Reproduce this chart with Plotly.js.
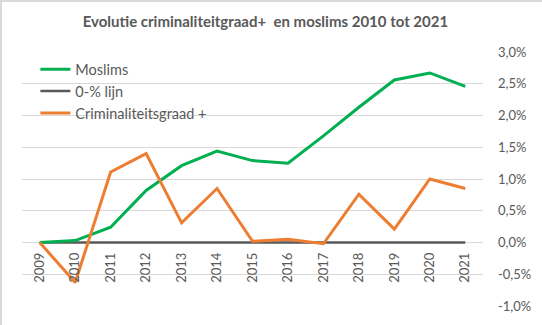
<!DOCTYPE html>
<html>
<head>
<meta charset="utf-8">
<script src="https://cdn.plot.ly/plotly-3.0.1.min.js"></script>
<style>
html,body{margin:0;padding:0;background:#fff;}
#chart{width:542px;height:325px;position:absolute;left:0;top:0;}
#frame{position:absolute;left:0;top:0;width:542px;height:325px;box-sizing:border-box;border-top:2px solid #d9d9d9;border-left:2px solid #d9d9d9;pointer-events:none;}
</style>
</head>
<body>
<div id="chart"></div>
<div id="frame"></div>
<script>
const years = ['2009','2010','2011','2012','2013','2014','2015','2016','2017','2018','2019','2020','2021'];
const moslims = [0.00, 0.03, 0.24, 0.82, 1.21, 1.44, 1.29, 1.25, 1.68, 2.13, 2.56, 2.67, 2.46];
const nulLijn = [0, 0, 0, 0, 0, 0, 0, 0, 0, 0, 0, 0, 0];
const criminaliteit = [0.00, -0.63, 1.11, 1.40, 0.31, 0.85, 0.02, 0.05, -0.02, 0.76, 0.21, 1.00, 0.85];
const yTicks = [-1.0, -0.5, 0, 0.5, 1.0, 1.5, 2.0, 2.5, 3.0];
const yTickText = yTicks.map(v => v.toFixed(1).replace('.', ',') + '%');

const FONT = 'Lato, "Open Sans", "Liberation Sans", sans-serif';
const TXT = '#595959';

const traces = [
  {x: years, y: nulLijn, name: '0-% lijn', type: 'scatter', mode: 'lines',
   line: {color: '#595959', width: 2.5}, legendrank: 2},
  {x: years, y: moslims, name: 'Moslims', type: 'scatter', mode: 'lines',
   line: {color: '#00B050', width: 3}, legendrank: 1},
  {x: years, y: criminaliteit, name: 'Criminaliteitsgraad +', type: 'scatter', mode: 'lines',
   line: {color: '#ED7D31', width: 3}, legendrank: 3}
];

const layout = {
  width: 542, height: 325,
  margin: {l: 22, r: 59, t: 52, b: 19, pad: 0},
  paper_bgcolor: '#fff', plot_bgcolor: '#fff',
  font: {family: FONT, color: TXT, size: 12},
  title: {text: '<b>Evolutie criminaliteitgraad+  en moslims 2010 tot 2021</b>',
          x: 0.528, xanchor: 'center', xref: 'paper', y: 1 - 22/325, yanchor: 'middle',
          font: {family: FONT, size: 15, color: TXT}},
  showlegend: true,
  legend: {x: 0.029, y: 0.995, xanchor: 'left', yanchor: 'top', bgcolor: 'rgba(0,0,0,0)',
           font: {family: FONT, size: 14.5, color: TXT}, tracegroupgap: 0, itemwidth: 30},
  xaxis: {type: 'category', range: [-0.5, 12.5], anchor: 'free', position: 63/254,
          showgrid: false, zeroline: false, showline: false, ticks: '',
          tickangle: -90, ticklabelstandoff: 6, tickfont: {family: FONT, size: 13, color: TXT}},
  yaxis: {side: 'right', range: [-1.0, 3.0], tickmode: 'array', tickvals: yTicks, ticktext: yTickText,
          showgrid: true, gridcolor: '#d9d9d9', gridwidth: 1, zeroline: false, showline: false,
          ticks: '', ticklabelstandoff: 14, tickfont: {family: FONT, size: 13, color: TXT}}
};

Plotly.newPlot('chart', traces, layout, {displayModeBar: false, staticPlot: true});
</script>
</body>
</html>
